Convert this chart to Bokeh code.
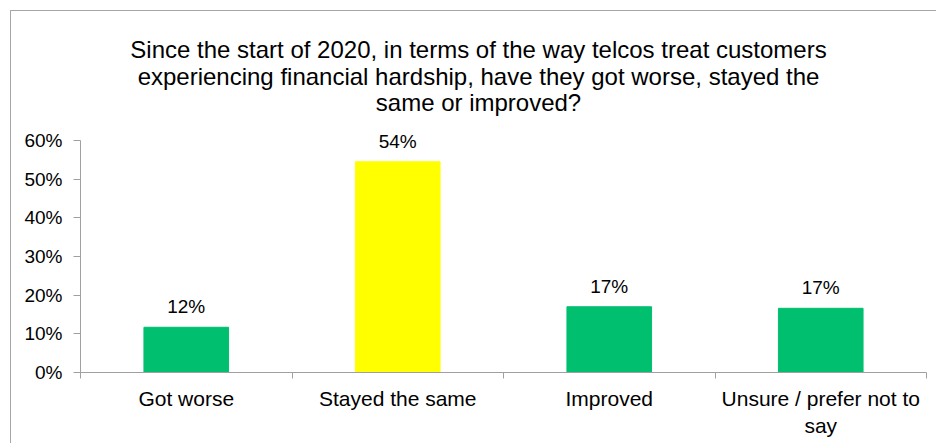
from bokeh.plotting import figure
from bokeh.models import ColumnDataSource, FixedTicker, LabelSet, Label, Range1d
from bokeh.core.properties import value
from bokeh.embed import file_html
from bokeh.resources import INLINE

categories = ["Got worse", "Stayed the same", "Improved", "Unsure / prefer not to\nsay"]
values = [0.117, 0.545, 0.17, 0.166]
value_labels = ["12%", "54%", "17%", "17%"]
colors = ["#00BF6F", "#FFFF00", "#00BF6F", "#00BF6F"]
y_ticks = [0, 0.1, 0.2, 0.3, 0.4, 0.5, 0.6]
y_tick_labels = ["0%", "10%", "20%", "30%", "40%", "50%", "60%"]
title_lines = [
    "Since the start of 2020, in terms of the way telcos treat customers",
    "experiencing financial hardship, have they got worse, stayed the",
    "same or improved?",
]

FONT = "Liberation Sans"
xpos = [i + 0.5 for i in range(len(categories))]
src = ColumnDataSource(dict(x=xpos, top=values, color=colors, lab=value_labels))

# frame spans the whole height above the x axis so the title lines (drawn inside it) are not clipped;
# the y axis line is limited to 0..60%
p = figure(width=926, height=433, output_backend="svg", toolbar_location=None,
           x_range=Range1d(0, len(categories)), y_range=Range1d(0, 0.9336),
           min_border_left=69, min_border_right=11, min_border_top=0, min_border_bottom=72)
p.margin = (10, 0, 0, 10)
p.styles = {"border-left": "1px solid #a6a6a6", "border-top": "1px solid #a6a6a6"}
p.outline_line_color = None
p.grid.visible = False
p.background_fill_color = "white"
p.border_fill_color = "white"

p.vbar(x="x", top="top", width=0.4, color="color", source=src)
p.add_layout(LabelSet(x="x", y="top", text="lab", source=src, text_align="center",
                      text_baseline="alphabetic", y_offset=14, text_font_size="19px",
                      text_font=value(FONT), text_color="black"))

ax = p.xaxis[0]
ax.ticker = FixedTicker(ticks=xpos, minor_ticks=list(range(len(categories) + 1)))
ax.major_label_overrides = {x: c for x, c in zip(xpos, categories)}
ax.major_tick_line_color = None
ax.minor_tick_in = 0
ax.minor_tick_out = 6
ax.minor_tick_line_color = "#a0a0a0"
ax.axis_line_color = "#a0a0a0"
ax.major_label_text_font = FONT
ax.major_label_text_font_size = "21px"
ax.major_label_text_color = "black"
ax.major_label_standoff = 8

ay = p.yaxis[0]
ay.bounds = (0, 0.6)
ay.ticker = FixedTicker(ticks=y_ticks, minor_ticks=[])
ay.major_label_overrides = {t: l for t, l in zip(y_ticks, y_tick_labels)}
ay.major_tick_in = 0
ay.major_tick_out = 7
ay.major_tick_line_color = "#a0a0a0"
ay.axis_line_color = "#a0a0a0"
ay.major_label_text_font = FONT
ay.major_label_text_font_size = "19px"
ay.major_label_text_color = "black"
ay.major_label_standoff = 11

# title lines positioned relative to the frame (screen units)
for i, line in enumerate(title_lines):
    p.add_layout(Label(x=398, y=323 - i * 26.5, x_units="screen", y_units="screen",
                       text=line, text_align="center", text_baseline="alphabetic",
                       text_font=FONT, text_font_size="24px", text_color="black"))

open("out.html", "w").write(file_html(p, INLINE))
